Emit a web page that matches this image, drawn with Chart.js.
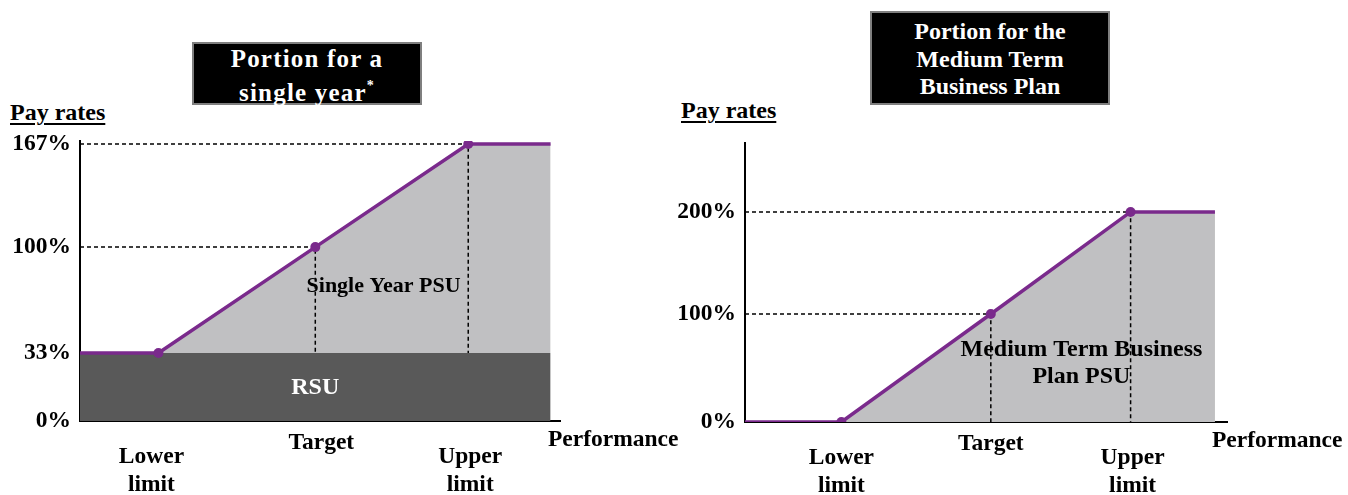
<!DOCTYPE html>
<html>
<head>
<meta charset="utf-8">
<script src="https://cdn.jsdelivr.net/npm/chart.js@4.4.1/dist/chart.umd.min.js"></script>
<style>
  html, body { margin:0; padding:0; background:#fff; width:1348px; height:495px; overflow:hidden; }
  body { position:relative; font-family:"Liberation Serif","Times New Roman",serif; }
  canvas { position:absolute; top:0; }
  .box { position:absolute; background:#000; border:2px solid #7f7f7f; box-sizing:border-box; }
  .ttl { position:absolute; color:#fff; font-weight:bold; text-align:center; white-space:nowrap; }
  .ttl sup { font-size:14px; line-height:0; vertical-align:11px; }
  .pay { position:absolute; font-weight:bold; font-size:24px; line-height:24px; text-decoration:underline; text-decoration-thickness:2px; text-underline-offset:3px; color:#000; white-space:nowrap; }
</style>
</head>
<body>
<div class="box" style="left:192px;top:42px;width:230px;height:63px;"></div>
<div class="ttl" style="left:192px;top:42px;width:230px;font-size:25px;line-height:34px;letter-spacing:1.2px;">Portion for a<br>single year<sup>*</sup></div>
<div class="box" style="left:870px;top:11px;width:240px;height:94px;"></div>
<div class="ttl" style="left:870px;top:18px;width:240px;font-size:24px;line-height:27.5px;">Portion for the<br>Medium Term<br>Business Plan</div>
<div class="pay" style="left:10px;top:100px;">Pay rates</div>
<div class="pay" style="left:681px;top:98px;">Pay rates</div>

<canvas id="c1" width="700" height="495" style="left:0px;"></canvas>
<canvas id="c2" width="674" height="495" style="left:674px;"></canvas>

<script>
// ---------------- DATA ----------------
// Left chart: portion for a single year
const leftYTicks   = [0, 33, 100, 167];
const leftPerfX    = [0, 1, 3, 4.95, 6];          // performance (schematic units)
const leftPay      = [33, 33, 100, 167, 167];     // pay rate %
const leftRSU      = [33, 33];                    // RSU floor %
const leftPointIdx = [1, 2, 3];                   // lower limit, target, upper limit
// Right chart: portion for the Medium Term Business Plan
const rightYTicks   = [0, 100, 200];
const rightPerfX    = [0, 2, 5.1, 8, 9.75];
const rightPay      = [0, 0, 100, 200, 200];
const rightPointIdx = [1, 2, 3];
// Labels
const pointLabels   = [["Lower", "limit"], ["Target"], ["Upper", "limit"]];
const axisTitleX    = "Performance";
const leftAreaLabels  = { psu: ["Single Year PSU"], rsu: ["RSU"] };
const rightAreaLabels = { psu: ["Medium Term Business", "Plan PSU"] };

// ---------------- STYLE ----------------
const PURPLE = '#7a2a8c';
const LIGHT  = '#c0c0c2';
const DARK   = '#595959';
const FONT   = '"Liberation Serif", "Times New Roman", serif';

// Piecewise-linear value axis (schematic chart: tick spacing is not proportional)
class PiecewiseScale extends Chart.LinearScale {
  static id = 'piecewise';
  static defaults = Chart.LinearScale.defaults;
  _frac(v) {
    const kv = this.options.knotValues, kf = this.options.knotFracs;
    let i = 0;
    while (i < kv.length - 2 && v > kv[i + 1]) i++;
    const t = (v - kv[i]) / (kv[i + 1] - kv[i]);
    return kf[i] + t * (kf[i + 1] - kf[i]);
  }
  getPixelForValue(v) {
    if (v === null || v === undefined || isNaN(v)) return NaN;
    return this.getPixelForDecimal(this._frac(v));
  }
  getValueForPixel(p) {
    const d = this.getDecimalForPixel(p);
    const kv = this.options.knotValues, kf = this.options.knotFracs;
    let i = 0;
    while (i < kf.length - 2 && d > kf[i + 1]) i++;
    const t = (d - kf[i]) / (kf[i + 1] - kf[i]);
    return kv[i] + t * (kv[i + 1] - kv[i]);
  }
}
Chart.register(PiecewiseScale);

const notesPlugin = {
  id: 'notes',
  beforeDatasetsDraw(chart, args, opts) {
    // area labels (drawn over fills, under guide lines)
    const ctx = chart.ctx, xs = chart.scales.x, ys = chart.scales.y;
    ctx.save();
    ctx.textAlign = 'center'; ctx.textBaseline = 'middle';
    (opts.inner || []).forEach(n => {
      ctx.font = 'bold ' + n.size + 'px ' + FONT;
      ctx.fillStyle = n.color;
      const px = xs.getPixelForValue(n.x), py = ys.getPixelForValue(n.y);
      const lh = 27;
      n.lines.forEach((t, i) => ctx.fillText(t, px, py + (i - (n.lines.length - 1) / 2) * lh));
    });
    ctx.restore();
  },
  afterDraw(chart, args, opts) {
    const ctx = chart.ctx, xs = chart.scales.x;
    ctx.save();
    ctx.fillStyle = '#000';
    ctx.font = 'bold 23.5px ' + FONT;
    ctx.textAlign = 'center'; ctx.textBaseline = 'middle';
    opts.xs.forEach((xv, k) => {
      const lines = pointLabels[k];
      const px = xs.getPixelForValue(xv) + (opts.dx ? opts.dx[k] : 0);
      if (lines.length === 1) ctx.fillText(lines[0], px, xs.top + 22);
      else lines.forEach((t, i) => ctx.fillText(t, px, xs.top + 36 + i * 27.5));
    });
    ctx.textAlign = 'left';
    ctx.fillText(axisTitleX, chart.chartArea.right - opts.perfGap, xs.top + 19);
    ctx.restore();
  }
};

function pts(xs, ys) { return xs.map((x, i) => ({ x, y: ys[i] })); }

function makeChart(id, cfg) {
  const guide = (k) => ({
    type: 'line',
    data: [{ x: cfg.perfX[0], y: cfg.pay[k] }, { x: cfg.perfX[k], y: cfg.pay[k] }, { x: cfg.perfX[k], y: cfg.floor }],
    borderColor: '#000', borderWidth: 1.5, borderDash: [4, 3],
    pointRadius: 0, fill: false, order: 1
  });
  const datasets = [
    {
      label: 'PSU',
      data: pts(cfg.perfX, cfg.pay),
      borderColor: PURPLE, borderWidth: 3.5,
      backgroundColor: LIGHT,
      fill: cfg.floor === 0 ? 'origin' : { value: cfg.floor },
      pointRadius: cfg.perfX.map((_, i) => cfg.pointIdx.includes(i) ? 5 : 0),
      pointBackgroundColor: PURPLE, pointBorderColor: PURPLE, pointBorderWidth: 0,
      tension: 0, order: 0
    },
    guide(cfg.pointIdx[1]),
    guide(cfg.pointIdx[2])
  ];
  if (cfg.rsu) {
    datasets.push({
      label: 'RSU',
      data: pts([cfg.perfX[0], cfg.perfX[cfg.perfX.length - 1]], cfg.rsu),
      borderWidth: 0, borderColor: 'rgba(0,0,0,0)',
      backgroundColor: DARK, fill: 'origin', pointRadius: 0, order: 2
    });
  }
  return new Chart(document.getElementById(id), {
    type: 'line',
    data: { datasets },
    options: {
      responsive: false, animation: false, devicePixelRatio: 1,
      layout: { padding: cfg.padding },
      plugins: {
        legend: { display: false }, tooltip: { enabled: false },
        filler: { drawTime: 'beforeDatasetsDraw' },
        notes: cfg.notes
      },
      scales: {
        x: {
          type: 'linear', min: 0, max: cfg.xMax, z: cfg.xz,
          grid: { display: false, drawTicks: false },
          border: { display: true, color: '#000', width: 2 },
          ticks: { display: false },
          afterFit: s => { s.height = cfg.xHeight; }
        },
        y: {
          type: 'piecewise', min: 0, max: cfg.yMax,
          knotValues: cfg.knotValues, knotFracs: cfg.knotFracs,
          grid: { display: false, drawTicks: false },
          border: { display: true, color: '#000', width: 2 },
          afterBuildTicks: s => { s.ticks = cfg.yTicks.map(v => ({ value: v })); },
          afterFit: s => { s.width = cfg.yWidth; },
          ticks: {
            padding: 9, color: '#000',
            font: { family: FONT, size: 23.5, weight: 'bold' },
            callback: v => v + '%'
          }
        }
      }
    },
    plugins: [notesPlugin]
  });
}

makeChart('c1', {
  perfX: leftPerfX, pay: leftPay, floor: leftRSU[0], rsu: leftRSU, pointIdx: leftPointIdx,
  yTicks: leftYTicks, knotValues: leftYTicks, knotFracs: [0, 0.243, 0.621, 0.989],
  yMax: 169, xMax: 6.12, xz: 1,
  padding: { top: 141, left: 0, right: 140, bottom: 0 }, yWidth: 80, xHeight: 74,
  notes: {
    xs: leftPointIdx.map(i => leftPerfX[i]), dx: [-7, 6, 2], perfGap: 12,
    inner: [
      { x: 3.87, y: 75, lines: leftAreaLabels.psu, size: 22, color: '#000' },
      { x: 3.0, y: 16, lines: leftAreaLabels.rsu, size: 24, color: '#fff' }
    ]
  }
});

makeChart('c2', {
  perfX: rightPerfX, pay: rightPay, floor: 0, rsu: null, pointIdx: rightPointIdx,
  yTicks: rightYTicks, knotValues: rightYTicks, knotFracs: [0, 0.387, 0.753],
  yMax: 267, xMax: 10, xz: 0,
  padding: { top: 143, left: 0, right: 121, bottom: 0 }, yWidth: 71, xHeight: 73,
  notes: {
    xs: rightPointIdx.map(i => rightPerfX[i]), dx: [0, 0, 2], perfGap: 15,
    inner: [
      { x: 6.98, y: 54, lines: rightAreaLabels.psu, size: 24, color: '#000' }
    ]
  }
});
</script>
</body>
</html>
